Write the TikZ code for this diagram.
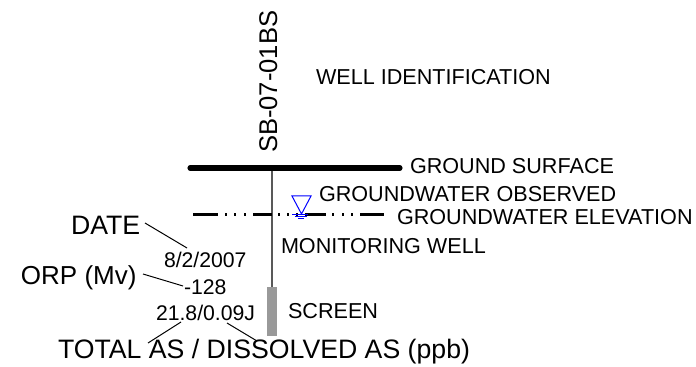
\documentclass[tikz,border=0pt]{standalone}
\usepackage{fontspec}
\setmainfont{Liberation Sans}
\tikzset{
 lab/.style={inner sep=0pt,outer sep=0pt,anchor=base west,text=black},
 small/.style={lab,font=\fontsize{16.2pt}{18pt}\selectfont},
 vals/.style={lab,font=\fontsize{15.9pt}{18pt}\selectfont},
 big/.style={lab,font=\fontsize{20pt}{23pt}\selectfont},
 leader/.style={draw=black,line width=0.75pt},
 wl/.style={blue,line width=0.75pt},
 dashseg/.style={black,line width=2.1pt}
}
\begin{document}
\begin{tikzpicture}[x=0.75pt,y=-0.75pt]
\useasboundingbox (0,0) rectangle (696,367);
% ground and well
\coordinate (gl) at (190,168); \coordinate (gr) at (400,168);
\coordinate (wt) at (272,168); \coordinate (wb) at (272,287);
\draw[line width=1.6pt,black!65] (wt) -- (wb);
\draw[line width=3.8pt,line cap=round] (gl) -- (gr);
\node[fill=black!40,minimum width=7.5pt,minimum height=36.75pt,inner sep=0pt,anchor=north] (scr) at (wb) {};
% groundwater line
\draw[dashseg] (193,214.5) -- (218,214.5) (253,214.5) -- (272,214.5) (305,214.5) -- (326,214.5) (360,214.5) -- (384,214.5);
\foreach \x in {225,234,244,278,287,296,332,342,351} \fill (\x,213.5) rectangle +(2.4,2);
% water symbol
\draw[wl] (292,196) -- (311,196) -- (301.5,214) -- cycle;
\draw[wl] (292,214.7) -- (308,214.7);
\draw[wl] (295,216.7) -- (307,216.7);
\draw[wl] (298,218.7) -- (304,218.7);
% texts
\node[lab,rotate=90,font=\fontsize{19.2pt}{22pt}\selectfont] (id) at (277,153) {SB-07-01BS};
\node[small] (t1) at (316,85) {WELL IDENTIFICATION};
\node[small] (t2) at (410,174) {GROUND SURFACE};
\node[small] (t3) at (319,202) {GROUNDWATER OBSERVED};
\node[small] (t4) at (397,224) {GROUNDWATER ELEVATION};
\node[small] (t5) at (281,253) {MONITORING WELL};
\node[small] (t6) at (288,318) {SCREEN};
\node[big] (date) at (71,234) {DATE};
\node[lab,font=\fontsize{19.5pt}{23pt}\selectfont] (orp) at (21,284) {ORP (Mv)};
\node[big] (tot) at (58,358) {TOTAL AS / DISSOLVED AS (ppb)};
\node[vals] (v1) at (164,267) {8/2/2007};
\node[vals] (v2) at (184,294) {-128};
\node[vals] (v3) at (156,320) {21.8/0.09J};
% leaders
\coordinate (a1) at (145,223); \coordinate (a2) at (187,248);
\coordinate (b1) at (143,274); \coordinate (b2) at (183,286);
\coordinate (c1) at (181,322); \coordinate (c2) at (148,343);
\coordinate (d1) at (227,323); \coordinate (d2) at (257,341);
\draw[leader] (a1) -- (a2);
\draw[leader] (b1) -- (b2);
\draw[leader] (c1) -- (c2);
\draw[leader] (d1) -- (d2);
\end{tikzpicture}
\end{document}
